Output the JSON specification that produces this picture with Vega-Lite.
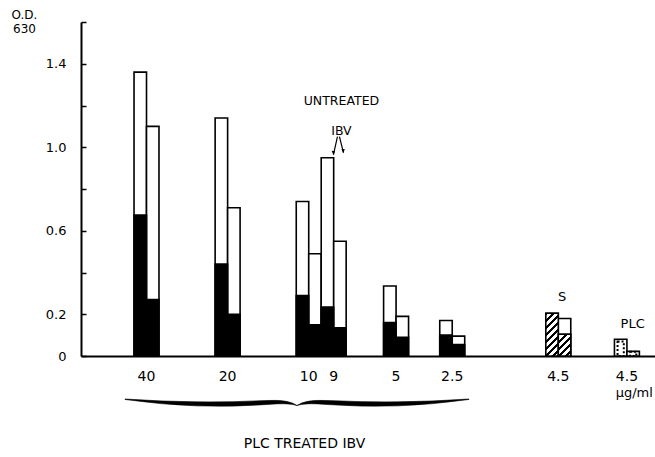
{
  "$schema": "https://vega.github.io/schema/vega-lite/v6.json",
  "width": 574,
  "height": 334,
  "autosize": {"type": "none"},
  "padding": {"left": 81, "top": 22, "right": 0, "bottom": 101},
  "background": "white",
  "config": {
    "view": {"stroke": null},
    "font": "DejaVu Sans",
    "text": {"font": "DejaVu Sans", "color": "black"},
    "axisY": {
      "grid": false,
      "domainColor": "black",
      "domainWidth": 2,
      "tickColor": "black",
      "tickWidth": 1.5,
      "tickSize": -5,
      "labelPadding": 20,
      "labelFont": "DejaVu Sans",
      "labelFontSize": 13,
      "labelColor": "black",
      "titleAngle": 0,
      "titleX": -57,
      "titleY": -13,
      "titleAlign": "center",
      "titleBaseline": "top",
      "titleLineHeight": 14,
      "titleFont": "DejaVu Sans",
      "titleFontSize": 12,
      "titleFontWeight": "normal",
      "titleColor": "black"
    }
  },
  "data": {
    "values": [
      {"id": "40a", "conc": "40", "od": 1.36, "inner": 0.675, "kind": "solid"},
      {"id": "40b", "conc": "40", "od": 1.10, "inner": 0.27, "kind": "solid"},
      {"id": "20a", "conc": "20", "od": 1.14, "inner": 0.44, "kind": "solid"},
      {"id": "20b", "conc": "20", "od": 0.71, "inner": 0.20, "kind": "solid"},
      {"id": "10a", "conc": "10", "od": 0.74, "inner": 0.29, "kind": "solid"},
      {"id": "10b", "conc": "10", "od": 0.49, "inner": 0.15, "kind": "solid"},
      {"id": "9a", "conc": "9", "od": 0.95, "inner": 0.235, "kind": "solid"},
      {"id": "9b", "conc": "9", "od": 0.55, "inner": 0.135, "kind": "solid"},
      {"id": "5a", "conc": "5", "od": 0.335, "inner": 0.16, "kind": "solid"},
      {"id": "5b", "conc": "5", "od": 0.19, "inner": 0.09, "kind": "solid"},
      {"id": "2.5a", "conc": "2.5", "od": 0.17, "inner": 0.10, "kind": "solid"},
      {"id": "2.5b", "conc": "2.5", "od": 0.095, "inner": 0.055, "kind": "solid"},
      {"id": "4.5Sa", "conc": "4.5", "od": 0.205, "inner": 0.205, "kind": "hatch"},
      {"id": "4.5Sb", "conc": "4.5", "od": 0.18, "inner": 0.105, "kind": "hatch"},
      {"id": "4.5Pa", "conc": "4.5", "od": 0.08, "inner": 0.07, "kind": "dots"},
      {"id": "4.5Pb", "conc": "4.5", "od": 0.022, "inner": 0.02, "kind": "dots"}
    ]
  },
  "encoding": {
    "x": {
      "field": "id",
      "type": "nominal",
      "scale": {
        "paddingInner": 0,
        "paddingOuter": 0,
        "domain": [
          "_0", "_1", "_2", "_3", "_4", "_5", "_6", "_7", "_8",
          "40a", "_10", "40b",
          "_12", "_13", "_14", "_15", "_16", "_17", "_18", "_19", "_20", "_21",
          "20a", "_23", "20b",
          "_25", "_26", "_27", "_28", "_29", "_30", "_31", "_32", "_33", "_34",
          "10a", "_36", "10b", "_38", "9a", "_40", "9b",
          "_42", "_43", "_44", "_45", "_46", "_47", "_48",
          "5a", "_50", "5b",
          "_52", "_53", "_54", "_55", "_56", "_57",
          "2.5a", "_59", "2.5b",
          "_61", "_62", "_63", "_64", "_65", "_66", "_67", "_68", "_69", "_70", "_71", "_72", "_73", "_74",
          "4.5Sa", "_76", "4.5Sb",
          "_78", "_79", "_80", "_81", "_82", "_83", "_84", "_85",
          "4.5Pa", "_87", "4.5Pb",
          "_89", "_90", "_91"
        ]
      },
      "axis": {
        "title": "PLC  TREATED  IBV",
        "titleX": 223,
        "titleY": 87,
        "titleAlign": "center",
        "titleBaseline": "middle",
        "titleFont": "DejaVu Sans",
        "titleFontSize": 14,
        "titleFontWeight": "normal",
        "titleColor": "black",
        "ticks": false,
        "domain": true,
        "domainColor": "black",
        "domainWidth": 2,
        "labelAngle": 0,
        "labelOffset": 6.24,
        "labelPadding": 13,
        "labelOverlap": false,
        "labelBound": false,
        "labelFlush": false,
        "labelFont": "DejaVu Sans",
        "labelFontSize": 14,
        "labelColor": "black",
        "labelExpr": "datum.label == '4.5Sa' || datum.label == '4.5Pa' ? '4.5' : test(/^[0-9.]+a$/, datum.label) ? slice(datum.label, 0, -1) : ''"
      }
    }
  },
  "layer": [
    {
      "mark": {"type": "bar", "width": {"band": 2}, "fill": "white", "stroke": "black", "strokeWidth": 1.6},
      "encoding": {
        "y": {
          "field": "od",
          "type": "quantitative",
          "scale": {"domain": [0, 1.6], "nice": false},
          "axis": {
            "title": ["O.D.", "630"],
            "values": [0, 0.2, 0.4, 0.6, 0.8, 1.0, 1.2, 1.4, 1.6],
            "format": ".1f",
            "labelExpr": "datum.label == '0.0' ? '0' : indexof(['0.2', '0.6', '1.0', '1.4'], datum.label) >= 0 ? datum.label : ''"
          }
        }
      }
    },
    {
      "transform": [{"filter": "datum.kind == 'solid'"}],
      "mark": {"type": "bar", "width": {"band": 2}, "fill": "black", "stroke": "black", "strokeWidth": 1.6},
      "encoding": {"y": {"field": "inner", "type": "quantitative"}}
    },
    {
      "transform": [{"filter": "datum.id == '4.5Sa'"}],
      "mark": {
        "type": "bar",
        "width": {"band": 2},
        "stroke": "black",
        "strokeWidth": 1.6,
        "fill": {
          "gradient": "linear", "x1": 0, "y1": 0, "x2": 0.35, "y2": 1.2,
          "stops": [
            {"offset": 0, "color": "black"}, {"offset": 0.045, "color": "black"}, {"offset": 0.045, "color": "white"}, {"offset": 0.125, "color": "white"},
            {"offset": 0.125, "color": "black"}, {"offset": 0.17, "color": "black"}, {"offset": 0.17, "color": "white"}, {"offset": 0.25, "color": "white"},
            {"offset": 0.25, "color": "black"}, {"offset": 0.295, "color": "black"}, {"offset": 0.295, "color": "white"}, {"offset": 0.375, "color": "white"},
            {"offset": 0.375, "color": "black"}, {"offset": 0.42, "color": "black"}, {"offset": 0.42, "color": "white"}, {"offset": 0.5, "color": "white"},
            {"offset": 0.5, "color": "black"}, {"offset": 0.545, "color": "black"}, {"offset": 0.545, "color": "white"}, {"offset": 0.625, "color": "white"},
            {"offset": 0.625, "color": "black"}, {"offset": 0.67, "color": "black"}, {"offset": 0.67, "color": "white"}, {"offset": 0.75, "color": "white"},
            {"offset": 0.75, "color": "black"}, {"offset": 0.795, "color": "black"}, {"offset": 0.795, "color": "white"}, {"offset": 0.875, "color": "white"},
            {"offset": 0.875, "color": "black"}, {"offset": 0.92, "color": "black"}, {"offset": 0.92, "color": "white"}, {"offset": 1, "color": "white"}
          ]
        }
      },
      "encoding": {"y": {"field": "inner", "type": "quantitative"}}
    },
    {
      "transform": [{"filter": "datum.id == '4.5Sb'"}],
      "mark": {
        "type": "bar",
        "width": {"band": 2},
        "stroke": "black",
        "strokeWidth": 1.6,
        "fill": {
          "gradient": "linear", "x1": 0, "y1": 0, "x2": 0.7, "y2": 1.23,
          "stops": [
            {"offset": 0, "color": "black"}, {"offset": 0.07, "color": "black"}, {"offset": 0.07, "color": "white"}, {"offset": 0.2, "color": "white"},
            {"offset": 0.2, "color": "black"}, {"offset": 0.27, "color": "black"}, {"offset": 0.27, "color": "white"}, {"offset": 0.4, "color": "white"},
            {"offset": 0.4, "color": "black"}, {"offset": 0.47, "color": "black"}, {"offset": 0.47, "color": "white"}, {"offset": 0.6, "color": "white"},
            {"offset": 0.6, "color": "black"}, {"offset": 0.67, "color": "black"}, {"offset": 0.67, "color": "white"}, {"offset": 0.8, "color": "white"},
            {"offset": 0.8, "color": "black"}, {"offset": 0.87, "color": "black"}, {"offset": 0.87, "color": "white"}, {"offset": 1, "color": "white"}
          ]
        }
      },
      "encoding": {"y": {"field": "inner", "type": "quantitative"}}
    },
    {
      "transform": [{"filter": "datum.kind == 'dots'"}],
      "mark": {"type": "bar", "width": {"band": 1}, "fill": "white", "fillOpacity": 0, "stroke": "black", "strokeWidth": 2, "strokeDash": [2, 2]},
      "encoding": {"y": {"field": "inner", "type": "quantitative"}}
    },
    {
      "transform": [{"filter": "datum.id == '9a'"}],
      "mark": {"type": "text", "text": "UNTREATED", "fontSize": 12.5, "dx": 14, "dy": -57, "align": "center", "baseline": "middle"},
      "encoding": {"y": {"field": "od", "type": "quantitative"}}
    },
    {
      "transform": [{"filter": "datum.id == '9a'"}],
      "mark": {"type": "text", "text": "IBV", "fontSize": 12.5, "dx": 14, "dy": -27, "align": "center", "baseline": "middle"},
      "encoding": {"y": {"field": "od", "type": "quantitative"}}
    },
    {
      "transform": [{"filter": "datum.id == '9a'"}],
      "mark": {
        "type": "point",
        "shape": "M-0.1,-0.9L-0.5,0.9M0.1,-0.9L0.5,0.7",
        "size": 400,
        "filled": false,
        "stroke": "black",
        "strokeWidth": 1.2,
        "opacity": 1,
        "xOffset": 11,
        "yOffset": -12
      },
      "encoding": {"y": {"field": "od", "type": "quantitative"}}
    },
    {
      "transform": [{"filter": "datum.id == '9a'"}],
      "mark": {
        "type": "point",
        "shape": "M-0.5,0.95L-0.68,0.5L-0.35,0.55ZM0.5,0.75L0.3,0.35L0.63,0.32Z",
        "size": 400,
        "filled": true,
        "fill": "black",
        "opacity": 1,
        "xOffset": 11,
        "yOffset": -12
      },
      "encoding": {"y": {"field": "od", "type": "quantitative"}}
    },
    {
      "transform": [{"filter": "datum.id == '4.5Sa'"}],
      "mark": {"type": "text", "text": "S", "fontSize": 13, "dx": 10, "dy": -16, "align": "center", "baseline": "middle"},
      "encoding": {"y": {"field": "od", "type": "quantitative"}}
    },
    {
      "transform": [{"filter": "datum.id == '4.5Pa'"}],
      "mark": {"type": "text", "text": "PLC", "fontSize": 13, "dx": 12, "dy": -15, "align": "center", "baseline": "middle"},
      "encoding": {"y": {"field": "od", "type": "quantitative"}}
    },
    {
      "transform": [{"filter": "datum.id == '4.5Pa'"}],
      "mark": {"type": "text", "text": "μg/ml", "fontSize": 13, "dx": -5, "dy": 37, "align": "left", "baseline": "middle"},
      "encoding": {"y": {"datum": 0, "type": "quantitative"}}
    },
    {
      "transform": [{"filter": "datum.id == '10a'"}],
      "mark": {
        "type": "point",
        "shape": "M-0.997,-0.0174Q-0.58,0.0116,-0.174,-0.0087Q-0.0464,-0.0145,0,0.0203Q0.0464,-0.0145,0.174,-0.0087Q0.58,0.0116,0.997,-0.0174L0.997,-0.0145Q0.58,0.045,0.174,0.0145Q0.0464,0.003,0,0.0203Q-0.0464,0.003,-0.174,0.0145Q-0.58,0.045,-0.997,-0.0145Z",
        "size": 119025,
        "filled": true,
        "fill": "black",
        "stroke": "black",
        "strokeWidth": 0.6,
        "opacity": 1,
        "xOffset": -5.5,
        "yOffset": 46
      },
      "encoding": {"y": {"datum": 0, "type": "quantitative"}}
    }
  ]
}
